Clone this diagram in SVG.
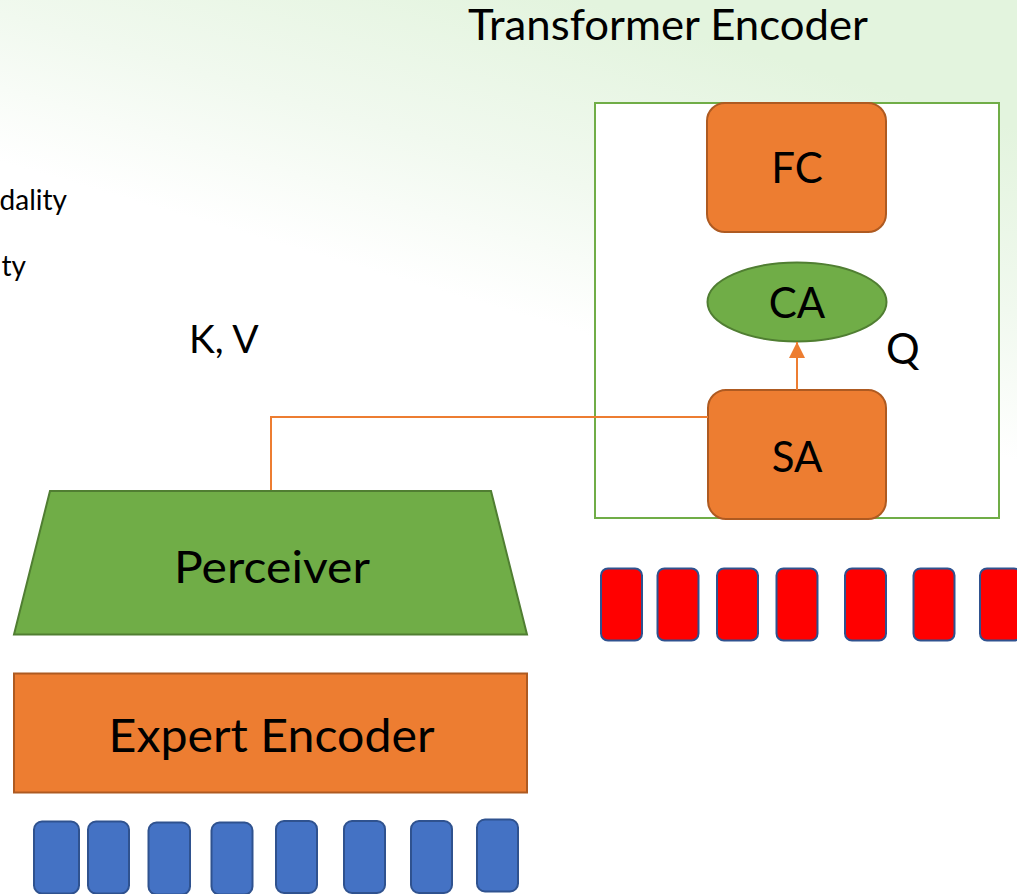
<svg xmlns="http://www.w3.org/2000/svg" width="1017" height="894" viewBox="0 0 1017 894">
  <defs>
    <linearGradient id="bgWash" gradientUnits="userSpaceOnUse" x1="580" y1="0" x2="480" y2="340">
      <stop offset="0" stop-color="#e3f4de"/>
      <stop offset="0.5" stop-color="#f1f9ef"/>
      <stop offset="0.9" stop-color="#ffffff"/>
    </linearGradient>
    <marker id="arrowHead" viewBox="0 0 16 16" refX="16" refY="8" markerWidth="16" markerHeight="16" markerUnits="userSpaceOnUse" orient="auto">
      <path d="M0,0 L16,8 L0,16 Z" fill="#ED7D31"/>
    </marker>
  </defs>
  <style>
    text { font-family: Lato, "Open Sans", "Liberation Sans", sans-serif; fill: #000000; }
    .orange { fill: #ED7D31; stroke: #AE5A21; stroke-width: 2; }
    .green { fill: #70AD47; stroke: #507E32; stroke-width: 2; }
    .blue { fill: #4472C4; stroke: #2F528F; stroke-width: 2; }
    .red { fill: #FF0000; stroke: #2F528F; stroke-width: 2; }
    .wire { fill: none; stroke: #ED7D31; stroke-width: 2; }
    .mid { text-anchor: middle; }
  </style>

  <!-- page background -->
  <rect x="0" y="0" width="1017" height="894" fill="url(#bgWash)"/>

  <!-- side notes, clipped at the left edge -->
  <g id="side-notes">
    <text x="67" y="210" font-size="28" text-anchor="end">dality</text>
    <text x="26" y="276" font-size="28" text-anchor="end">ty</text>
  </g>

  <text id="title" x="468" y="39.5" font-size="42" textLength="400" lengthAdjust="spacingAndGlyphs">Transformer Encoder</text>

  <!-- transformer encoder block -->
  <g id="encoder-frame">
    <rect x="595" y="103" width="404" height="415" fill="#ffffff" stroke="#70AD47" stroke-width="2"/>
  </g>

  <g id="fc">
    <rect class="orange" x="707" y="103" width="179" height="129" rx="18"/>
    <text class="mid" x="797" y="183" font-size="42">FC</text>
  </g>

  <g id="ca">
    <ellipse class="green" cx="797" cy="302" rx="89.5" ry="39.5"/>
    <text class="mid" x="797" y="318" font-size="42">CA</text>
  </g>

  <g id="sa">
    <rect class="orange" x="708" y="390" width="178" height="129" rx="18"/>
    <text class="mid" x="797" y="471.5" font-size="42">SA</text>
  </g>

  <g id="label-q">
    <text x="886" y="364" font-size="42">Q</text>
  </g>

  <g id="label-kv">
    <text x="189" y="353" font-size="39">K, V</text>
  </g>

  <!-- connectors -->
  <g id="connectors">
    <path class="wire" d="M271,491 V417 H708"/>
    <path class="wire" d="M797,390 V342" marker-end="url(#arrowHead)"/>
  </g>

  <g id="perceiver">
    <polygon class="green" points="50,491 491,491 527,634.5 14,634.5"/>
    <text class="mid" x="272" y="582.5" font-size="44" textLength="196" lengthAdjust="spacingAndGlyphs">Perceiver</text>
  </g>

  <g id="expert-encoder">
    <rect class="orange" x="14" y="673.5" width="513" height="119"/>
    <text class="mid" x="271.5" y="751.5" font-size="47" textLength="326" lengthAdjust="spacingAndGlyphs">Expert Encoder</text>
  </g>

  <!-- query tokens -->
  <g id="query-tokens">
    <rect class="red" x="601" y="568.5" width="41" height="72" rx="7"/>
    <rect class="red" x="657.5" y="568.5" width="41" height="72" rx="7"/>
    <rect class="red" x="717" y="568.5" width="41" height="72" rx="7"/>
    <rect class="red" x="776.5" y="568.5" width="41" height="72" rx="7"/>
    <rect class="red" x="845" y="568.5" width="41" height="72" rx="7"/>
    <rect class="red" x="913.5" y="568.5" width="41" height="72" rx="7"/>
    <rect class="red" x="980" y="568.5" width="41" height="72" rx="7"/>
  </g>

  <!-- input tokens -->
  <g id="input-tokens">
    <rect class="blue" x="34" y="821.5" width="45" height="72" rx="8"/>
    <rect class="blue" x="88" y="821.5" width="41" height="72" rx="8"/>
    <rect class="blue" x="148.5" y="822.5" width="41.5" height="72" rx="8"/>
    <rect class="blue" x="211.5" y="822.5" width="41" height="72" rx="8"/>
    <rect class="blue" x="276" y="821" width="41" height="72" rx="8"/>
    <rect class="blue" x="344" y="821" width="41" height="72" rx="8"/>
    <rect class="blue" x="411" y="821" width="41" height="72" rx="8"/>
    <rect class="blue" x="477" y="819.5" width="41" height="72" rx="8"/>
  </g>
</svg>
